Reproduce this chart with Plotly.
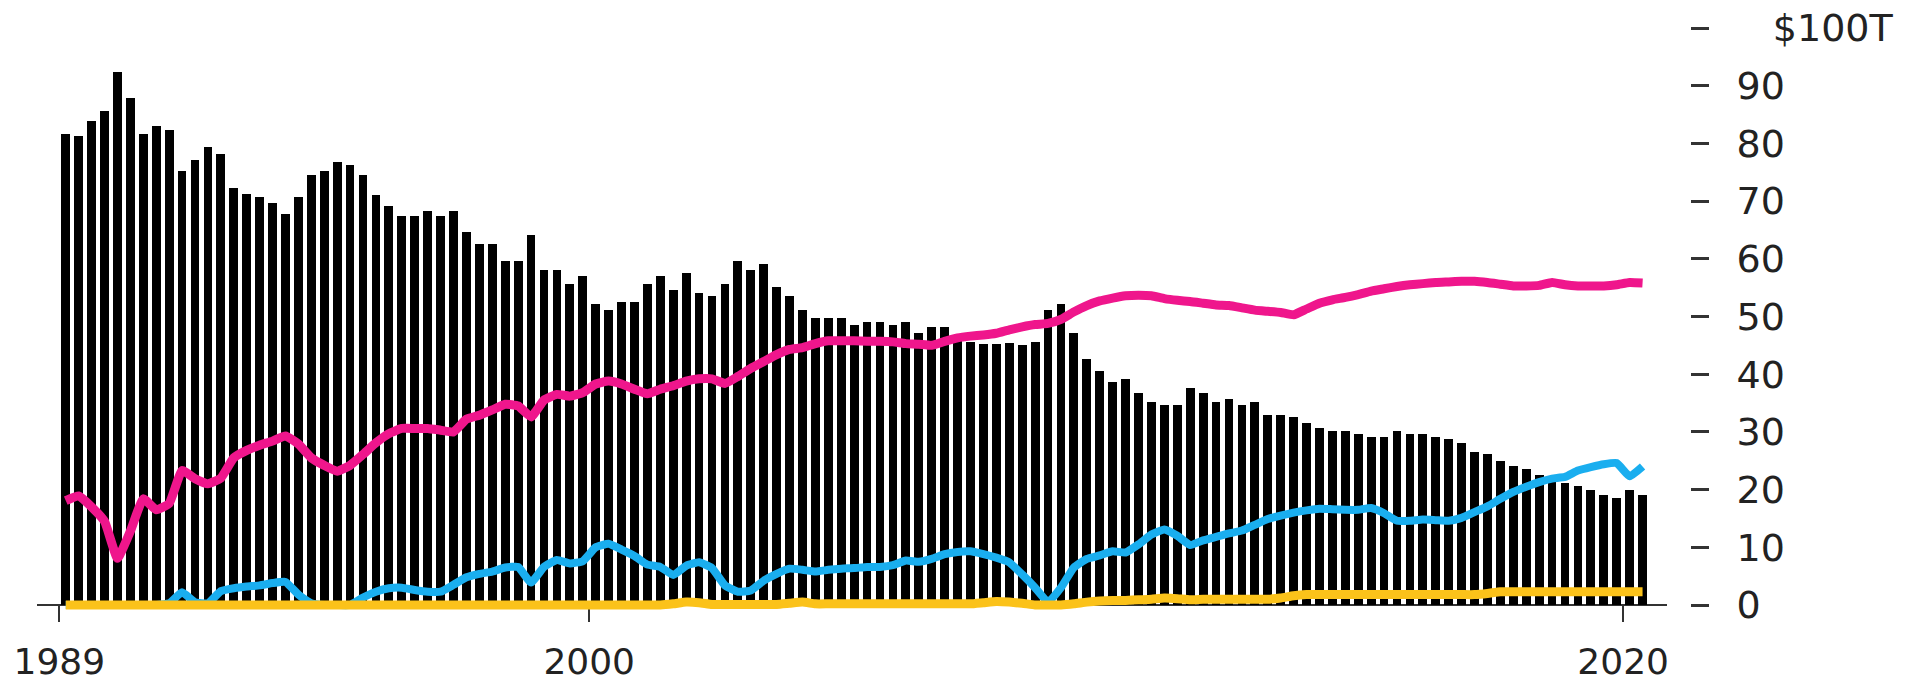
import plotly.graph_objects as go

# Quarterly observations, 1989 Q4 .. 2020 Q2 (123 quarters)
quarters = [f"{1989 + (3 + k) // 4} Q{(3 + k) % 4 + 1}" for k in range(123)]

# Black bars ($T)
bars = [
    81.7, 81.2, 83.8, 85.7, 92.3, 87.8, 81.7, 83.1, 82.3, 75.3,
    77.2, 79.3, 78.2, 72.2, 71.2, 70.7, 69.6, 67.7, 70.7, 74.6,
    75.3, 76.8, 76.2, 74.6, 71.1, 69.1, 67.5, 67.5, 68.2, 67.5,
    68.2, 64.6, 62.6, 62.6, 59.6, 59.6, 64.1, 58.1, 58.1, 55.7,
    57.1, 52.2, 51.1, 52.6, 52.6, 55.7, 57.1, 54.6, 57.6, 54.1,
    53.6, 55.7, 59.7, 58.1, 59.1, 55.2, 53.6, 51.1, 49.7, 49.7,
    49.7, 48.6, 49.1, 49.1, 48.6, 49.1, 47.1, 48.1, 48.1, 45.8,
    45.5, 45.2, 45.2, 45.4, 45.0, 45.6, 51.1, 52.2, 47.2, 42.6,
    40.6, 38.7, 39.1, 36.7, 35.2, 34.6, 34.6, 37.6, 36.7, 35.2,
    35.7, 34.6, 35.2, 33.0, 33.0, 32.6, 31.5, 30.6, 30.1, 30.1,
    29.6, 29.2, 29.2, 30.1, 29.6, 29.6, 29.2, 28.7, 28.0, 26.6,
    26.1, 24.9, 24.1, 23.5, 22.5, 21.7, 21.2, 20.6, 20.0, 19.1,
    18.6, 20.0, 19.0,
]

# Pink line
pink = [
    18.1, 18.9, 17.0, 14.5, 8.1, 12.8, 18.4, 16.5, 17.6, 23.3,
    21.9, 21.0, 22.0, 25.5, 26.8, 27.7, 28.4, 29.3, 27.9, 25.5,
    24.2, 23.2, 24.2, 26.1, 28.1, 29.7, 30.6, 30.6, 30.6, 30.3,
    30.0, 32.2, 32.9, 33.8, 34.8, 34.5, 32.6, 35.5, 36.5, 36.2,
    36.8, 38.3, 38.8, 38.3, 37.4, 36.6, 37.4, 38.0, 38.8, 39.2,
    39.2, 38.4, 39.6, 41.0, 42.2, 43.4, 44.3, 44.6, 45.3, 45.8,
    45.8, 45.8, 45.7, 45.7, 45.6, 45.3, 45.2, 45.0, 45.7, 46.3,
    46.6, 46.8, 47.1, 47.7, 48.2, 48.6, 48.8, 49.5, 50.8, 51.9,
    52.7, 53.2, 53.6, 53.7, 53.6, 53.1, 52.8, 52.6, 52.3, 52.0,
    51.9, 51.5, 51.1, 50.9, 50.7, 50.3, 51.3, 52.3, 52.9, 53.3,
    53.8, 54.4, 54.8, 55.2, 55.5, 55.7, 55.9, 56.0, 56.1, 56.1,
    55.9, 55.6, 55.3, 55.3, 55.4, 55.9, 55.5, 55.3, 55.3, 55.3,
    55.5, 55.9, 55.8,
]

# Blue line
blue = [
    0.0, 0.0, 0.0, 0.0, 0.0, 0.0, 0.0, 0.0, 0.3, 2.2,
    0.5, 0.3, 2.4, 2.9, 3.2, 3.4, 3.8, 4.0, 1.8, 0.3,
    0.0, 0.0, 0.0, 1.3, 2.3, 2.9, 3.0, 2.6, 2.3, 2.3,
    3.5, 4.8, 5.4, 5.8, 6.5, 6.6, 3.9, 6.6, 7.8, 7.2,
    7.6, 10.0, 10.6, 9.6, 8.5, 7.0, 6.6, 5.2, 6.8, 7.4,
    6.4, 3.4, 2.3, 2.5, 4.2, 5.4, 6.3, 6.1, 5.8, 6.1,
    6.3, 6.4, 6.6, 6.6, 6.9, 7.7, 7.5, 8.0, 8.8, 9.2,
    9.3, 8.8, 8.2, 7.4, 5.3, 3.0, 0.5, 3.0, 6.5, 8.0,
    8.6, 9.3, 9.1, 10.5, 12.2, 13.1, 12.0, 10.4, 11.2, 11.8,
    12.4, 12.9, 13.9, 14.9, 15.5, 16.0, 16.4, 16.7, 16.6, 16.5,
    16.5, 16.8, 15.9, 14.6, 14.6, 14.8, 14.7, 14.6, 15.1, 16.1,
    17.1, 18.4, 19.6, 20.5, 21.3, 21.9, 22.2, 23.3, 23.9, 24.4,
    24.6, 22.3, 24.0,
]

# Yellow line
yellow = [
    0.0, 0.0, 0.0, 0.0, 0.0, 0.0, 0.0, 0.0, 0.0, 0.0,
    0.0, 0.0, 0.0, 0.0, 0.0, 0.0, 0.0, 0.0, 0.0, 0.0,
    0.0, 0.0, 0.0, 0.0, 0.0, 0.0, 0.0, 0.0, 0.0, 0.0,
    0.0, 0.0, 0.0, 0.0, 0.0, 0.0, 0.0, 0.0, 0.0, 0.0,
    0.0, 0.0, 0.0, 0.0, 0.0, 0.0, 0.0, 0.2, 0.5, 0.4,
    0.1, 0.1, 0.1, 0.1, 0.1, 0.1, 0.3, 0.5, 0.2, 0.2,
    0.2, 0.2, 0.2, 0.2, 0.2, 0.2, 0.2, 0.2, 0.2, 0.2,
    0.2, 0.4, 0.6, 0.5, 0.3, 0.0, 0.0, 0.0, 0.2, 0.5,
    0.7, 0.8, 0.8, 0.9, 1.0, 1.2, 1.1, 0.9, 1.0, 1.0,
    1.0, 1.0, 1.0, 1.0, 1.2, 1.6, 1.8, 1.8, 1.8, 1.8,
    1.8, 1.8, 1.8, 1.8, 1.8, 1.8, 1.8, 1.8, 1.8, 1.8,
    2.0, 2.3, 2.3, 2.3, 2.3, 2.3, 2.3, 2.3, 2.3, 2.3,
    2.3, 2.3, 2.3,
]

# Axis ticks
x_tick_pos = [-0.5, 40.5, 120.5]
x_tick_text = ["1989", "2000", "2020"]
y_tick_vals = [0, 10, 20, 30, 40, 50, 60, 70, 80, 90, 100]
y_tick_text = ["0", "10", "20", "30", "40", "50", "60", "70", "80", "90",
               "\u00a0\u00a0\u00a0$100T"]

x = list(range(len(quarters)))

FONT = "DejaVu Sans"
fig = go.Figure()
fig.add_trace(go.Bar(x=x, y=bars, width=0.68, marker=dict(color="#000000", line=dict(width=0)),
                     hovertext=quarters, name="Total"))
fig.add_trace(go.Scatter(x=x, y=pink, mode="lines", hovertext=quarters,
                         line=dict(color="#EF168C", width=9, shape="spline", smoothing=0.4)))
fig.add_trace(go.Scatter(x=x, y=blue, mode="lines", hovertext=quarters,
                         line=dict(color="#1AAEEF", width=8, shape="spline", smoothing=0.4)))
fig.add_trace(go.Scatter(x=x, y=yellow, mode="lines", hovertext=quarters,
                         line=dict(color="#FBC21A", width=9, shape="spline", smoothing=0.4)))

fig.update_layout(
    width=1910, height=685,
    margin=dict(l=37, r=220, t=16, b=68, pad=0, autoexpand=False),
    paper_bgcolor="white", plot_bgcolor="white",
    showlegend=False, bargap=0,
    font=dict(family=FONT, color="#222222"),
    xaxis=dict(
        domain=[0, 0.98608], range=[-2.225, 123.89],
        anchor="free", position=0.01997, automargin=False,
        showline=True, linecolor="#333333", linewidth=2,
        ticks="outside", ticklen=16, tickwidth=2, tickcolor="#333333",
        tickvals=x_tick_pos, ticktext=x_tick_text,
        tickfont=dict(family=FONT, size=36, color="#222222"),
        ticklabelstandoff=9,
        showgrid=False, zeroline=False, layer="below traces",
    ),
    yaxis=dict(
        range=[-2.08, 102.08], side="right", anchor="free", position=1.0,
        automargin=False,
        showline=False, showgrid=False, zeroline=False,
        ticks="outside", ticklen=18, tickwidth=3, tickcolor="#333333",
        tickvals=y_tick_vals, ticktext=y_tick_text,
        tickfont=dict(family=FONT, size=38, color="#222222"),
        ticklabelstandoff=20,
    ),
)

fig.write_html(
    "out.html",
    config={"displayModeBar": False},
    post_script="document.body.style.margin='0px';document.body.style.overflow='hidden';",
)
